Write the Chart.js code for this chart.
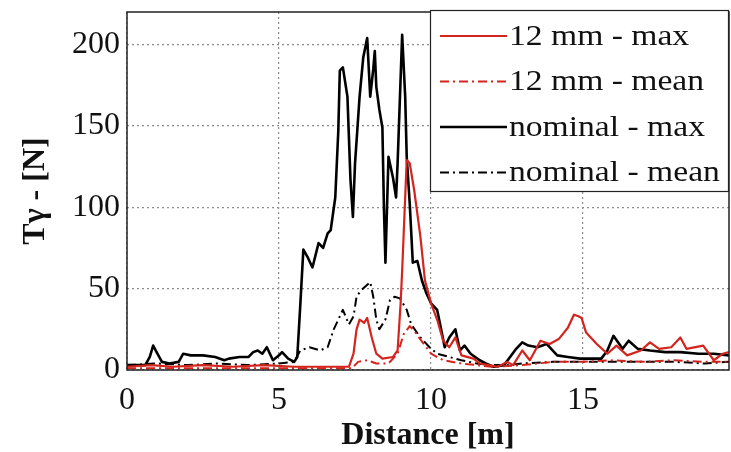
<!DOCTYPE html>
<html>
<head>
<meta charset="utf-8">
<script src="https://cdn.jsdelivr.net/npm/chart.js"></script>
<style>
  html, body { margin: 0; padding: 0; background: #fff; }
  #wrap { width: 731px; height: 452px; }
</style>
</head>
<body>
<div id="wrap"><canvas id="myCanvas" width="731" height="452"></canvas></div>
<script>
// distance [m] and force [N]
const nomMaxX = [0, 0.6, 0.75, 0.86, 1.0, 1.15, 1.4, 1.7, 1.85, 2.1, 2.5, 2.9, 3.2, 3.35, 3.7, 4.0, 4.15, 4.3, 4.45, 4.6,
  4.8, 5.0, 5.1, 5.3, 5.5, 5.6, 5.7, 5.8, 5.95, 6.1, 6.3, 6.45, 6.6, 6.7, 6.85, 6.95, 7.0, 7.1, 7.25, 7.35,
  7.43, 7.5, 7.65, 7.77, 7.9, 8.0, 8.1, 8.15, 8.2, 8.3, 8.4, 8.45, 8.5, 8.6, 8.75, 8.85, 8.9, 9.05, 9.15, 9.2,
  9.3, 9.4, 9.55, 9.7, 9.85, 10.0, 10.2, 10.3, 10.45, 10.6, 10.8, 10.95, 11.1, 11.3, 11.6, 11.8, 12.05, 12.4, 12.6, 12.8,
  13.0, 13.2, 13.5, 13.8, 14.15, 14.5, 14.9, 15.3, 15.6, 15.8, 16.0, 16.3, 16.5, 16.8, 17.2, 17.7, 18.2, 18.8, 19.3, 19.8];
const nomMaxY = [3, 3, 8, 15, 10, 5, 4, 5, 10, 9, 9, 8, 6, 7, 8, 8, 11, 12, 10, 14,
  6, 9, 11, 7, 5, 8, 40, 74, 69, 63, 78, 75, 84, 86, 106, 147, 184, 186, 168, 117,
  94, 127, 168, 192, 204, 168, 185, 196, 174, 160, 149, 100, 66, 131, 118, 106, 127, 206, 168, 131,
  102, 66, 67, 55, 47, 41, 37, 28, 14, 20, 25, 12, 15, 10, 6, 4, 2, 3, 8, 13,
  17, 15, 14, 16, 9, 8, 7, 7, 7, 12, 21, 13, 18, 13, 12, 11, 11, 10, 10, 9];

const nomMeanX = [0, 1, 2, 3, 4, 5, 5.5, 5.7, 6.0, 6.35, 6.6, 6.8, 7.1, 7.3, 7.45, 7.55, 7.7, 8.0, 8.1, 8.2,
  8.3, 8.5, 8.65, 8.8, 8.98, 9.2, 9.35, 9.65, 9.95, 10.2, 10.6, 11.0, 11.5, 12.0, 12.5, 13.0, 14, 15, 16, 17,
  18, 19, 19.8];
const nomMeanY = [3, 4, 3, 4, 3, 4, 5, 12, 14, 12, 14, 25, 37, 28, 33, 45, 49, 54, 45, 31,
  25, 31, 43, 45, 44, 37, 28, 20, 14, 10, 8, 6, 4, 3, 3, 4, 5, 5, 5, 5,
  5, 4, 5];

const mm12MaxX = [0, 0.8, 1.5, 2.5, 3.5, 4.5, 5.5, 6.5, 7.3, 7.45, 7.55, 7.65, 7.8, 7.9, 8.05, 8.2, 8.4, 8.75, 8.9, 9.0,
  9.05, 9.2, 9.3, 9.45, 9.65, 9.8, 10.0, 10.2, 10.4, 10.6, 10.8, 11.0, 11.4, 11.6, 12.2, 12.5, 12.7, 13.0, 13.25, 13.6,
  13.9, 14.2, 14.5, 14.7, 14.85, 14.95, 15.1, 15.45, 15.8, 16.1, 16.45, 16.9, 17.2, 17.5, 17.9, 18.2, 18.4, 18.95, 19.3, 19.6,
  19.8];
const mm12MaxY = [2, 3, 2, 3, 2, 3, 2, 2, 2, 10, 25, 31, 29, 32, 20, 10, 7, 8, 12, 41,
  61, 129, 127, 110, 82, 55, 41, 31, 18, 14, 20, 9, 7, 4, 2, 5, 3, 12, 6, 18,
  16, 19, 26, 34, 33, 32, 23, 16, 10, 15, 9, 12, 17, 13, 14, 20, 13, 15, 6, 10,
  11];

const mm12MeanX = [0, 2, 4, 6, 7.4, 7.6, 7.9, 8.2, 8.6, 8.9, 9.1, 9.3, 9.45, 9.6, 9.8, 10.0, 10.4, 11.0, 12.0, 13.0,
  14, 15, 16, 17, 18, 19, 19.8];
const mm12MeanY = [1, 1, 1, 1, 1, 5, 6, 4, 4, 10, 22, 27, 24, 20, 15, 10, 6, 4, 2, 3,
  5, 5, 6, 5, 6, 5, 5];

const xTicks = [0, 5, 10, 15];
const yTicks = [0, 50, 100, 150, 200];

const RED = "#d3241e";
const DASHDOT = [9, 4, 2, 4];
const SERIF = "'Liberation Serif', 'DejaVu Serif', serif";

const pts = (xs, ys) => xs.map((x, i) => ({ x: x, y: ys[i] }));

const data = {
  datasets: [
    { label: "12 mm - max", data: pts(mm12MaxX, mm12MaxY), borderColor: RED, borderWidth: 2.2, borderDash: [] },
    { label: "12 mm - mean", data: pts(mm12MeanX, mm12MeanY), borderColor: RED, borderWidth: 2, borderDash: DASHDOT },
    { label: "nominal - max", data: pts(nomMaxX, nomMaxY), borderColor: "#000", borderWidth: 2.6, borderDash: [] },
    { label: "nominal - mean", data: pts(nomMeanX, nomMeanY), borderColor: "#000", borderWidth: 2, borderDash: DASHDOT },
  ],
};

// frame + boxed legend in the upper right, the way matlab draws it
const boxLegend = {
  id: "boxLegend",
  afterDatasetsDraw(chart) {
    const { ctx, chartArea: a } = chart;
    ctx.save();
    ctx.strokeStyle = "#222";
    ctx.lineWidth = 1.5;
    ctx.setLineDash([]);
    ctx.strokeRect(a.left, a.top, a.right - a.left, a.bottom - a.top);

    const bx = 430, by = 10, bw = a.right - bx, bh = 182;
    ctx.fillStyle = "#fff";
    ctx.fillRect(bx, by, bw, bh);
    ctx.lineWidth = 1.2;
    ctx.strokeRect(bx + 0.5, by + 0.5, bw - 1, bh - 1);

    ctx.font = "30px " + SERIF;
    ctx.textBaseline = "middle";
    ctx.fillStyle = "#111";
    chart.data.datasets.forEach((ds, i) => {
      const y = 36 + i * 45.5;
      ctx.strokeStyle = ds.borderColor;
      ctx.lineWidth = ds.borderWidth;
      ctx.setLineDash(ds.borderDash);
      ctx.beginPath();
      ctx.moveTo(440, y);
      ctx.lineTo(507, y);
      ctx.stroke();
      ctx.setLineDash([]);
      // source text is a bit wide, stretch it a little
      ctx.save();
      ctx.translate(509, y + 1);
      ctx.scale(1.12, 1);
      ctx.fillText(ds.label, 0, 0);
      ctx.restore();
    });
    ctx.restore();
  },
};

const canvasId = document.getElementById("myCanvas");
new Chart(canvasId, {
  type: "line",
  data,
  plugins: [boxLegend],
  options: {
    responsive: false,
    animation: false,
    layout: { padding: { left: 0, top: 12, right: 2, bottom: 0 } },
    elements: {
      line: { tension: 0, borderJoinStyle: "round" },
      point: { radius: 0 },
    },
    plugins: {
      legend: false,
      tooltip: { enabled: false },
    },
    scales: {
      x: {
        type: "linear",
        min: 0,
        max: 19.8,
        afterBuildTicks: (s) => { s.ticks = xTicks.map((v) => ({ value: v })); },
        afterFit: (s) => { s.height = 82; s.paddingLeft = 0; s.paddingRight = 0; },
        grid: { color: "#8c8c8c", lineWidth: 1.2, drawTicks: false },
        border: { display: false, dash: [2, 3] },
        ticks: {
          padding: 11,
          color: "#111",
          font: { family: SERIF, size: 32 },
        },
        title: {
          display: true,
          text: "Distance [m]",
          color: "#111",
          padding: { top: 0, bottom: 0 },
          font: { family: SERIF, size: 32, weight: "bold", lineHeight: 1 },
        },
      },
      y: {
        type: "linear",
        min: 0,
        max: 220,
        afterBuildTicks: (s) => { s.ticks = yTicks.map((v) => ({ value: v })); },
        afterFit: (s) => { s.width = 127; s.paddingTop = 0; s.paddingBottom = 0; },
        grid: { color: "#8c8c8c", lineWidth: 1.2, drawTicks: false },
        border: { display: false, dash: [2, 3] },
        ticks: {
          padding: 7,
          color: "#111",
          font: { family: SERIF, size: 32 },
        },
        title: {
          display: true,
          text: "Tγ - [N]",
          color: "#111",
          padding: { top: 20, bottom: 0 },
          font: { family: SERIF, size: 32, weight: "bold", lineHeight: 1 },
        },
      },
    },
  },
});
</script>
</body>
</html>
